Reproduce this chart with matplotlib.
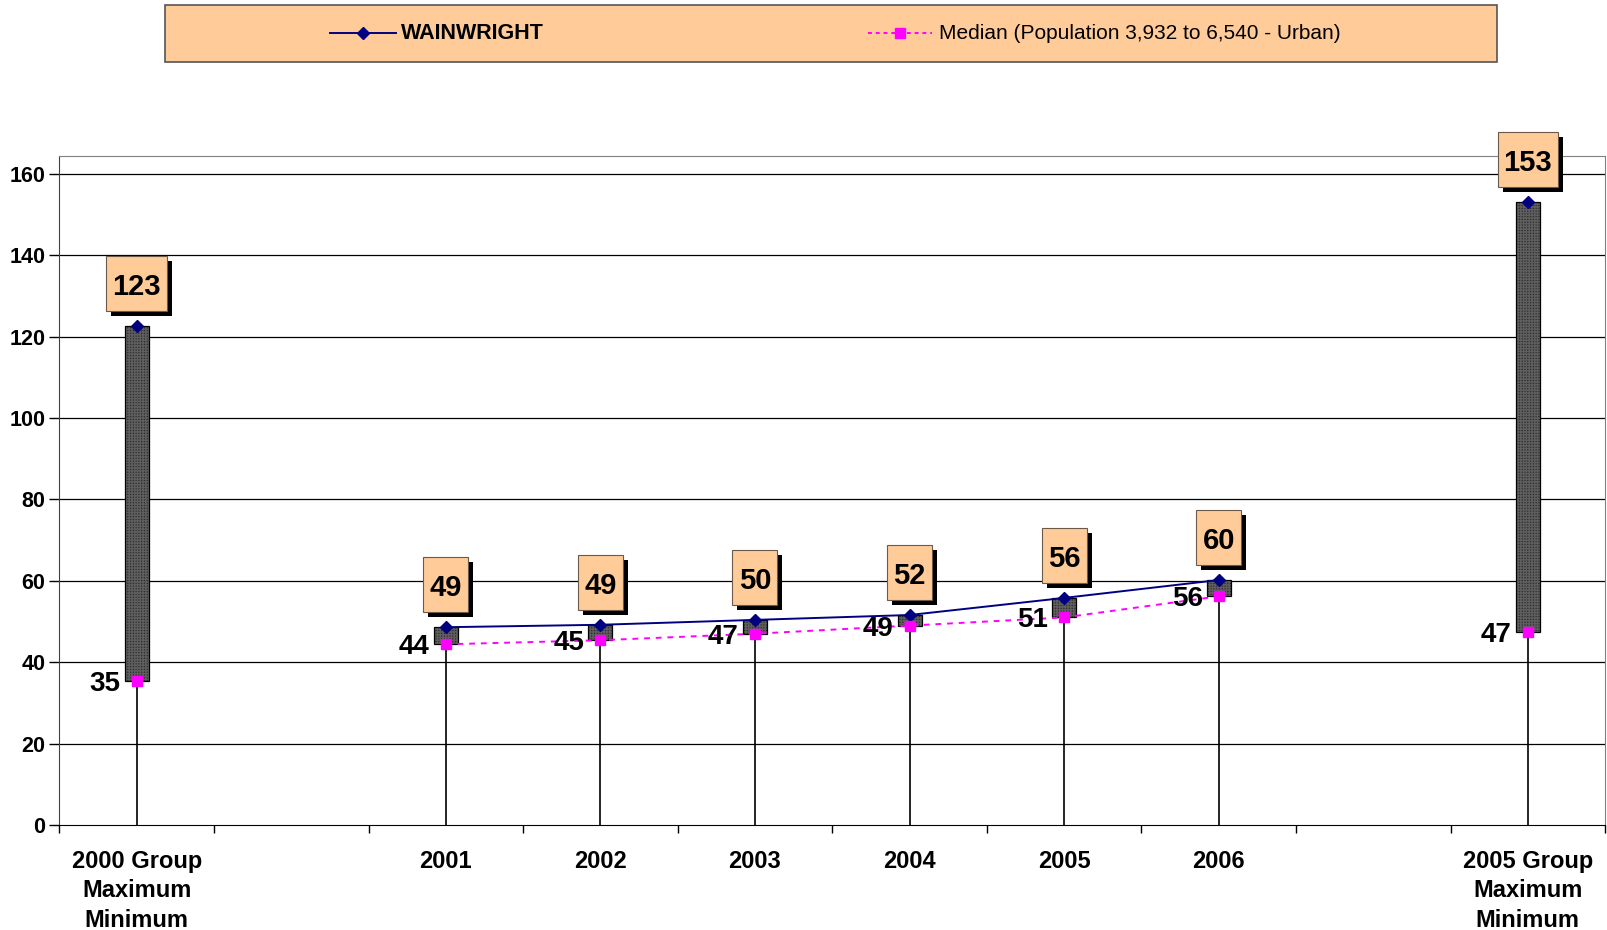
import matplotlib
matplotlib.use('Agg')
import matplotlib.pyplot as plt
import matplotlib.transforms as mtransforms
from matplotlib.patches import Rectangle
from matplotlib.lines import Line2D

plt.rcParams['font.family'] = ['Liberation Sans', 'DejaVu Sans']

# category slots (10 slots on the axis, two of them left empty)
slots = [0, 2, 3, 4, 5, 6, 7, 9]
categories = ['2000 Group\nMaximum\nMinimum', '2001', '2002', '2003', '2004',
              '2005', '2006', '2005 Group\nMaximum\nMinimum']
wainwright = [122.6, 48.6, 49.2, 50.4, 51.6, 55.8, 60.2, 153.1]
median = [35.4, 44.4, 45.4, 47.0, 49.0, 51.0, 56.2, 47.4]
w_labels = ['123', '49', '49', '50', '52', '56', '60', '153']
m_labels = ['35', '44', '45', '47', '49', '51', '56', '47']
yticks = [0, 20, 40, 60, 80, 100, 120, 140, 160]

peach = '#FFCC99'
navy = '#000080'
magenta = '#FF00FF'

fig = plt.figure(figsize=(16.07, 9.3), dpi=100)
ax = fig.add_axes([0.037, 0.113, 0.9618, 0.7195])
ax.set_xlim(-0.5, 9.5)
ax.set_ylim(0, 164.5)

# gridlines
for t in yticks[1:]:
    ax.axhline(t, color='black', lw=0.9, zorder=1)

# drop lines
hi = [max(a, b) for a, b in zip(wainwright, median)]
ax.vlines(slots, 0, hi, color='black', lw=1.2, zorder=2)

# up/down bars
lo = [min(a, b) for a, b in zip(wainwright, median)]
heights = [h - l for h, l in zip(hi, lo)]
ax.bar(slots, heights, bottom=lo, width=0.155, color='#2e2e2e',
       edgecolor='#5e5e5e', hatch='++++++', lw=0, zorder=3)
ax.bar(slots, heights, bottom=lo, width=0.155, fill=False,
       edgecolor='black', lw=0.9, zorder=3)

# series lines (only the yearly points are connected)
ax.plot(slots[1:7], wainwright[1:7], color=navy, lw=1.4, zorder=4)
ax.plot(slots[1:7], median[1:7], color=magenta, lw=1.4,
        ls=(0, (3, 3)), zorder=4)
ax.plot(slots, wainwright, ls='none', marker='D', ms=6.5, color=navy, zorder=5)
ax.plot(slots, median, ls='none', marker='s', ms=7.5, color=magenta, zorder=5)

# boxed labels for WAINWRIGHT
for x, y, lab in zip(slots, wainwright, w_labels):
    tr = mtransforms.IdentityTransform() + mtransforms.ScaledTranslation(x, y, ax.transData)
    bw = 14 + 15.5 * len(lab)
    ax.add_patch(Rectangle((-bw / 2 + 5, 10), bw, 55, transform=tr,
                           facecolor='black', edgecolor='none', zorder=6,
                           clip_on=False))
    ax.add_patch(Rectangle((-bw / 2, 15), bw, 55, transform=tr,
                           facecolor=peach, edgecolor='#6b5a4a', lw=0.8,
                           zorder=7, clip_on=False))
    ax.annotate(lab, xy=(x, y), xytext=(0, 39), textcoords='offset pixels',
                ha='center', va='center', fontsize=21, fontweight='bold',
                zorder=8)

# median labels
for x, y, lab in zip(slots, median, m_labels):
    ax.annotate(lab, xy=(x, y), xytext=(-16, -3), textcoords='offset pixels',
                ha='right', va='center', fontsize=20, fontweight='bold',
                zorder=8)

# axes styling
ax.set_yticks(yticks)
ax.set_yticklabels([str(t) for t in yticks], fontsize=15.5, fontweight='bold')
ax.tick_params(axis='y', length=7, width=1, pad=3)
ax.set_xticks([s - 0.5 for s in range(11)])
ax.set_xticklabels([])
ax.tick_params(axis='x', which='major', length=6, width=1)
ax.set_xticks(slots, minor=True)
ax.set_xticklabels(categories, minor=True, fontsize=17, fontweight='bold',
                   linespacing=1.35, va='top')
ax.tick_params(axis='x', which='minor', length=0, pad=18)
ax.spines['top'].set_color('#808080')
ax.spines['right'].set_color('#808080')
ax.spines['left'].set_color('#404040')
ax.spines['bottom'].set_color('black')

# legend box
fig.patches.append(Rectangle((165 / 1607, 1 - 62.5 / 930), 1332 / 1607, 57.5 / 930,
                             transform=fig.transFigure, facecolor=peach,
                             edgecolor='#555555', lw=1.2))
ly = 1 - 33.5 / 930
fig.lines.append(Line2D([330 / 1607, 396 / 1607], [ly, ly], color=navy, lw=1.4,
                        transform=fig.transFigure))
fig.lines.append(Line2D([363 / 1607], [ly], color=navy, marker='D', ms=6,
                        transform=fig.transFigure))
fig.text(401 / 1607, ly, 'WAINWRIGHT', fontsize=15.5, fontweight='bold',
         va='center', ha='left')
fig.lines.append(Line2D([868 / 1607, 932 / 1607], [ly, ly], color=magenta, lw=1.4,
                        ls=(0, (2, 2)), transform=fig.transFigure))
fig.lines.append(Line2D([900 / 1607], [ly], color=magenta, marker='s', ms=7,
                        transform=fig.transFigure))
fig.text(939 / 1607, ly, 'Median (Population 3,932 to 6,540 - Urban)',
         fontsize=15, va='center', ha='left')

fig.savefig('out.png', dpi=100)
